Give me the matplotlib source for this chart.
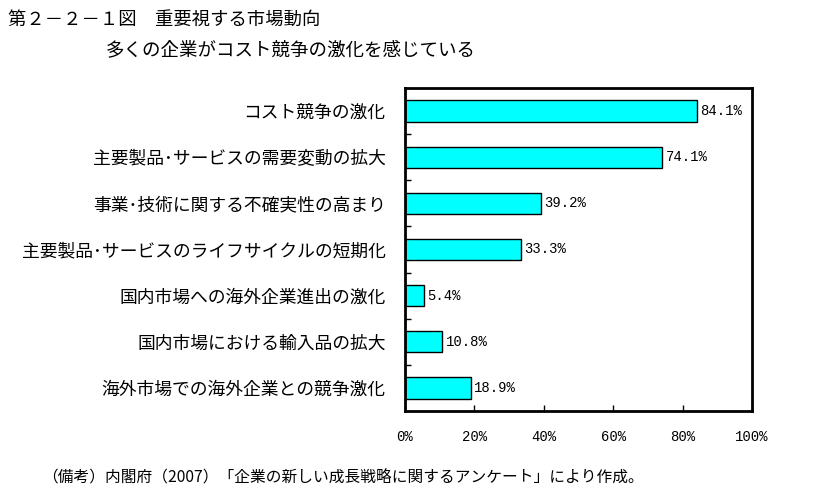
import matplotlib
matplotlib.use("Agg")
import matplotlib.pyplot as plt
import numpy as np

plt.rcParams['font.family'] = ['Noto Sans CJK JP', 'DejaVu Sans']

categories = [
    "コスト競争の激化",
    "主要製品･サービスの需要変動の拡大",
    "事業･技術に関する不確実性の高まり",
    "主要製品･サービスのライフサイクルの短期化",
    "国内市場への海外企業進出の激化",
    "国内市場における輸入品の拡大",
    "海外市場での海外企業との競争激化",
]
values = [84.1, 74.1, 39.2, 33.3, 5.4, 10.8, 18.9]
xticks = [0, 20, 40, 60, 80, 100]
xtick_labels = ["0%", "20%", "40%", "60%", "80%", "100%"]

title = "第２－２－１図　重要視する市場動向"
subtitle = "多くの企業がコスト競争の激化を感じている"
note = "（備考）内閣府（2007）「企業の新しい成長戦略に関するアンケート」により作成。"

fig = plt.figure(figsize=(8.14, 4.96), dpi=100)
ax = fig.add_axes([0.4975, 0.1714, 0.4263, 0.6512])

y = np.arange(len(categories))
bars = ax.barh(y, values, height=0.46, color="#00FFFF", edgecolor="black", linewidth=1.0)
ax.set_ylim(len(categories) - 0.5, -0.5)
ax.set_xlim(0, 100)

ax.set_yticks(y)
ax.set_yticklabels(categories, fontsize=12.8)
ax.tick_params(axis='y', which='major', length=0, pad=14)
ax.set_yticks(np.arange(len(categories) - 1) + 0.5, minor=True)
ax.tick_params(axis='y', which='minor', direction='in', length=4, width=1)

ax.set_xticks(xticks)
ax.set_xticklabels(xtick_labels, family=['Liberation Mono', 'DejaVu Sans Mono'], fontsize=10)
ax.tick_params(axis='x', direction='in', length=4, width=1, pad=14)

for s in ax.spines.values():
    s.set_linewidth(2)

for b, v in zip(bars, values):
    ax.text(b.get_width() + 1.0, b.get_y() + b.get_height() / 2, f"{v:.1f}%",
            va='center', ha='left', fontsize=10,
            family=['Liberation Mono', 'DejaVu Sans Mono'])

fig.text(8 / 814, 1 - 20 / 496, title, fontsize=13.2, va='center', ha='left')
fig.text(106 / 814, 1 - 50 / 496, subtitle, fontsize=13.3, va='center', ha='left')
fig.text(42 / 814, 1 - 478 / 496, note, fontsize=11.3, va='center', ha='left')

fig.savefig("out.png", dpi=100, facecolor="white")
